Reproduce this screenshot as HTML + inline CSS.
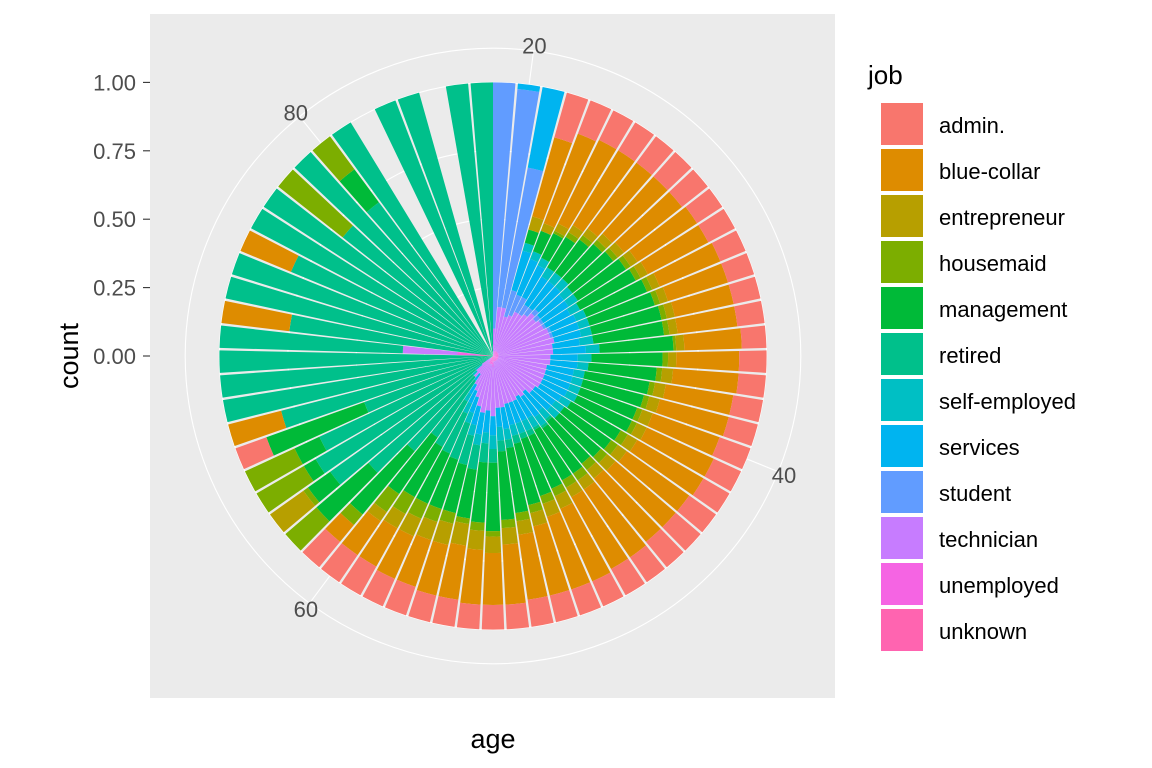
<!DOCTYPE html>
<html><head><meta charset="utf-8">
<style>
html,body{margin:0;padding:0;background:#fff;}
svg{display:block;font-family:"Liberation Sans",Arial,sans-serif;}
</style></head>
<body>
<svg id="chart" width="1152" height="768" viewBox="0 0 1152 768" xmlns="http://www.w3.org/2000/svg">
<rect x="0" y="0" width="1152" height="768" fill="#ffffff"/>
<rect x="150" y="14" width="685" height="684" fill="#EBEBEB"/>
<g id="grid"></g>
<g id="bars"></g>
<g id="axes"></g>
<text x="493" y="748" font-size="27" text-anchor="middle" fill="#000">age</text>
<text x="0" y="0" font-size="27" text-anchor="middle" fill="#000" transform="translate(78,356) rotate(-90)">count</text>
<text x="868" y="84" font-size="26" fill="#000">job</text>
<g id="legend"></g>
</svg>
<script>
const jobs = ["admin.","blue-collar","entrepreneur","housemaid","management","retired","self-employed","services","student","technician","unemployed","unknown"];
const colors = ["#F8766D","#DE8C00","#B79F00","#7CAE00","#00BA38","#00C08B","#00BFC4","#00B4F0","#619CFF","#C77CFF","#F564E3","#FF64B0"];
const ages = [19,20,21,22,23,24,25,26,27,28,29,30,31,32,33,34,35,36,37,38,39,40,41,42,43,44,45,46,47,48,49,50,51,52,53,54,55,56,57,58,59,60,61,62,63,64,65,66,67,68,69,70,71,72,73,74,75,76,77,78,79,80,81,83,84,86,87];
const counts = [
[0,0,0,0,0,0,0,0,90,10,0,0],
[0,0,0,0,0,0,0,2,80,18,0,0],
[0,0,0,0,0,0,0,30,52,18,0,0],
[17,30,5,0,5,0,3,15,10,15,0,0],
[13,35,3,0,8,0,3,14,8,14,2,0],
[12,34,3,1,10,0,3,13,6,16,2,0],
[12,32,3,2,13,0,4,12,4,16,2,0],
[12,30,3,2,15,0,4,12,3,17,2,0],
[12,28,3,2,17,0,4,11,2,19,2,0],
[12,27,3,2,19,0,4,11,2,18,2,0],
[11,26,3,2,21,0,4,11,1,19,2,0],
[11,25,3,2,23,0,4,10,1,19,2,0],
[10,24,3,2,24,0,4,10,1,20,2,0],
[10,23,3,2,25,0,4,10,1,20,2,0],
[10,22,3,2,26,0,4,10,0,21,2,0],
[10,22,3,2,26,0,5,10,0,20,2,0],
[9,21,3,1,27,0,5,12,0,20,2,0],
[10,23,3,2,26,0,5,10,0,19,2,0],
[10,24,4,2,25,0,4,10,0,19,2,0],
[11,25,4,2,24,0,4,10,0,18,2,0],
[11,26,4,2,23,0,4,10,0,18,2,0],
[12,26,4,2,22,0,4,10,0,18,2,0],
[11,27,4,2,22,0,4,10,0,18,2,0],
[11,28,4,3,21,0,4,9,0,18,2,0],
[12,28,4,3,21,0,4,9,0,17,2,0],
[12,29,4,3,20,0,4,9,0,17,2,0],
[12,30,4,3,20,1,4,9,0,15,2,0],
[11,30,4,3,20,1,4,9,0,16,2,0],
[11,30,4,3,21,1,4,9,0,15,2,0],
[10,29,5,3,21,2,4,8,0,16,2,0],
[10,28,5,3,22,2,4,8,0,16,2,0],
[10,26,5,3,23,3,4,8,0,16,2,0],
[10,24,5,3,24,3,4,8,0,17,2,0],
[9,22,6,3,25,4,5,7,0,17,2,0],
[9,19,6,2,25,5,5,7,0,18,3,1],
[9,20,7,3,22,7,4,8,0,17,2,1],
[10,20,8,2,18,9,4,8,0,18,2,1],
[10,19,8,4,18,11,4,7,0,16,2,1],
[11,18,7,5,19,14,4,6,0,13,2,1],
[11,17,7,6,20,16,4,5,0,11,2,1],
[12,16,6,7,21,19,3,4,0,10,1,1],
[12,15,4,8,25,25,0,3,0,8,0,0],
[12,8,0,5,30,35,0,0,0,10,0,0],
[0,0,0,15,25,50,2,0,0,8,0,0],
[0,0,15,2,10,65,3,0,0,5,0,0],
[0,0,0,20,5,72,3,0,0,0,0,0],
[0,0,0,20,10,70,0,0,0,0,0,0],
[12,0,0,0,38,50,0,0,0,0,0,0],
[0,20,0,0,0,80,0,0,0,0,0,0],
[0,0,0,0,0,100,0,0,0,0,0,0],
[0,0,0,0,0,100,0,0,0,0,0,0],
[0,0,0,0,0,100,0,0,0,0,0,0],
[0,0,0,0,0,67,0,0,0,20,8,5],
[0,25,0,0,0,75,0,0,0,0,0,0],
[0,0,0,0,0,100,0,0,0,0,0,0],
[0,0,0,0,0,100,0,0,0,0,0,0],
[0,20,0,0,0,80,0,0,0,0,0,0],
[0,0,0,0,0,100,0,0,0,0,0,0],
[0,0,0,0,0,100,0,0,0,0,0,0],
[0,0,0,30,0,70,0,0,0,0,0,0],
[0,0,0,0,0,100,0,0,0,0,0,0],
[0,0,0,15,15,70,0,0,0,0,0,0],
[0,0,0,0,0,100,0,0,0,0,0,0],
[0,0,0,0,0,100,0,0,0,0,0,0],
[0,0,0,0,0,100,0,0,0,0,0,0],
[0,0,0,0,0,100,0,0,0,0,0,0],
[0,0,0,0,0,100,0,0,0,0,0,0]
];
const yTicks = [0,0.25,0.5,0.75,1];
const yTickLabels = ["0.00","0.25","0.50","0.75","1.00"];
const xTicks = [20,40,60,80];
const xTickLabels = ["20","40","60","80"];

const NS = "http://www.w3.org/2000/svg";
const cx = 493, cy = 356, R = 273.6, Rout = 307.8;
const xmin = Math.min(...ages) - 0.45, xmax = Math.max(...ages) + 0.45;
function theta(a){ return (a - xmin) / (xmax - xmin) * 2 * Math.PI; }
function rad(v){ return v * R; }
function pt(r,t){ return [cx + r*Math.sin(t), cy - r*Math.cos(t)]; }
function mk(tag, attrs, parent){ const e=document.createElementNS(NS,tag); for(const k in attrs) e.setAttribute(k,attrs[k]); parent.appendChild(e); return e; }

const grid = document.getElementById('grid');
yTicks.forEach((v)=>{
  const c = mk('circle',{cx:cx,cy:cy,r:rad(v),fill:'none',stroke:'#fff','stroke-width':1.1},grid);
  
  
});
const oc = mk('circle',{cx:cx,cy:cy,r:Rout,fill:'none',stroke:'#fff','stroke-width':1.1},grid);


xTicks.forEach(a=>{
  const [x2,y2]=pt(Rout,theta(a));
  const l = mk('line',{x1:cx,y1:cy,x2:x2,y2:y2,stroke:'#fff','stroke-width':1.1},grid);
  
  
});

const bars = document.getElementById('bars');
ages.forEach((a,i)=>{
  const row = counts[i];
  const tot = row.reduce((s,v)=>s+v,0);
  const t0 = theta(a-0.45), t1 = theta(a+0.45);
  let cum = 0;
  for(let j=jobs.length-1;j>=0;j--){
    const v=row[j]/tot; if(v<=0) continue;
    const r0=rad(cum), r1=rad(cum+v); cum+=v;
    const [ax,ay]=pt(r1,t0),[bx,by]=pt(r1,t1),[ccx,ccy]=pt(r0,t1),[dx,dy]=pt(r0,t0);
    const d=`M${ax},${ay}A${r1},${r1} 0 0 1 ${bx},${by}L${ccx},${ccy}A${r0},${r0} 0 0 0 ${dx},${dy}Z`;
    const p = mk('path',{d:d,fill:colors[j]},bars);
    
    
  }
});

const axes = document.getElementById('axes');
yTicks.forEach((v,i)=>{
  const y = cy - rad(v);
  const l = mk('line',{x1:143,y1:y,x2:150,y2:y,stroke:'#333','stroke-width':1.1},axes);
  
  
  const t = mk('text',{x:136,y:y+8,'font-size':22,'text-anchor':'end',fill:'#4D4D4D'},axes);
  t.textContent = yTickLabels[i];
  
  
});
xTicks.forEach((a,i)=>{
  const [x,y]=pt(314,theta(a));
  const t = mk('text',{x:x,y:y+9,'font-size':22,'text-anchor':'middle',fill:'#4D4D4D'},axes);
  t.textContent = xTickLabels[i];
  
  
});

const legend = document.getElementById('legend');
jobs.forEach((j,i)=>{
  const y = 103 + 46*i;
  const r = mk('rect',{x:881,y:y,width:42,height:42,fill:colors[i]},legend);
  
  
  const t = mk('text',{x:939,y:y+30,'font-size':22,fill:'#000'},legend);
  t.textContent = j;
  
  
});
</script>
</body></html>
